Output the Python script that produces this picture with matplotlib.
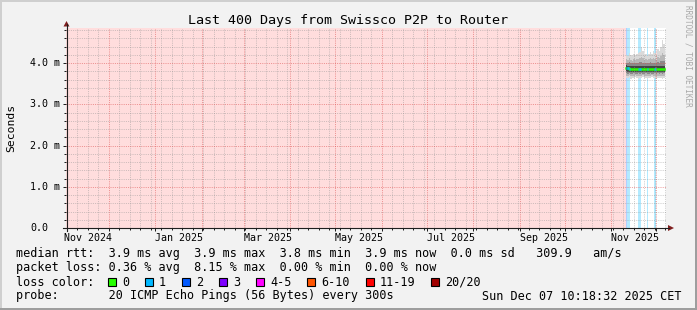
import matplotlib
matplotlib.use("Agg")
import matplotlib.pyplot as plt
import matplotlib.dates as mdates
from matplotlib.ticker import MultipleLocator
from matplotlib.lines import Line2D
from matplotlib.patches import Rectangle, Polygon
from matplotlib.transforms import blended_transform_factory
import pandas as pd

W, H = 697, 310
MONO = "DejaVu Sans Mono"

# ---- chart data ----
title = "Last 400 Days from Swissco P2P to Router"
graph_end = pd.Timestamp("2025-12-07 10:18:32")
graph_start = graph_end - pd.Timedelta(days=400)
y_top = 4.85  # ms

ytick_values = [0.0, 1.0, 2.0, 3.0, 4.0]
ytick_labels = ["0.0", "1.0 m", "2.0 m", "3.0 m", "4.0 m"]

xlabel_months = ["2024-11-01", "2025-01-01", "2025-03-01", "2025-05-01",
                 "2025-07-01", "2025-09-01", "2025-11-01"]
xlabel_texts = ["Nov 2024", "Jan 2025", "Mar 2025", "May 2025",
                "Jul 2025", "Sep 2025", "Nov 2025"]

# one sample per day, rtt in ms (smoke bands from lowest to highest ping)
sample_days = pd.date_range("2025-11-10 12:00", periods=27, freq="D")
rtt_min = [3.64, 3.63, 3.65, 3.62, 3.64, 3.63, 3.65, 3.64, 3.62, 3.63, 3.64, 3.65, 3.63, 3.64,
           3.62, 3.64, 3.63, 3.65, 3.64, 3.63, 3.62, 3.64, 3.63, 3.64, 3.62, 3.63, 3.64]
rtt_lo = [3.69, 3.68, 3.70, 3.68, 3.69, 3.68, 3.70, 3.69, 3.68, 3.69, 3.68, 3.70, 3.69, 3.68,
          3.69, 3.68, 3.69, 3.70, 3.68, 3.69, 3.68, 3.69, 3.68, 3.69, 3.68, 3.69, 3.69]
rtt_core_lo = [3.75, 3.74, 3.75, 3.74, 3.74, 3.75, 3.74, 3.74, 3.75, 3.74, 3.75, 3.74, 3.74, 3.75,
               3.74, 3.74, 3.75, 3.74, 3.74, 3.75, 3.74, 3.75, 3.74, 3.75, 3.74, 3.75, 3.75]
rtt_dark_lo = [3.80, 3.79, 3.79, 3.79, 3.78, 3.79, 3.78, 3.78, 3.79, 3.78, 3.79, 3.78, 3.78, 3.79,
               3.78, 3.78, 3.79, 3.78, 3.78, 3.79, 3.78, 3.79, 3.78, 3.79, 3.78, 3.79, 3.79]
rtt_med = [3.88, 3.87, 3.86, 3.86, 3.85, 3.86, 3.85, 3.85, 3.86, 3.85, 3.86, 3.85, 3.85, 3.86,
           3.85, 3.85, 3.86, 3.85, 3.85, 3.86, 3.85, 3.86, 3.85, 3.86, 3.85, 3.86, 3.86]
rtt_dark_hi = [3.95, 3.94, 3.94, 3.93, 3.93, 3.94, 3.93, 3.93, 3.94, 3.93, 3.94, 3.93, 3.93, 3.94,
               3.93, 3.93, 3.94, 3.93, 3.93, 3.94, 3.93, 3.94, 3.93, 3.94, 3.94, 3.94, 3.95]
rtt_core_hi = [4.01, 4.00, 4.02, 4.00, 3.99, 4.01, 3.99, 4.00, 4.01, 4.02, 4.03, 4.01, 3.99, 4.00,
               3.99, 4.00, 4.02, 4.00, 4.01, 4.00, 3.99, 4.02, 4.01, 4.04, 4.06, 4.05, 4.08]
rtt_hi = [4.10, 4.08, 4.12, 4.08, 4.06, 4.10, 4.07, 4.09, 4.10, 4.12, 4.15, 4.12, 4.08, 4.10,
          4.07, 4.09, 4.12, 4.10, 4.12, 4.10, 4.08, 4.14, 4.12, 4.18, 4.25, 4.20, 4.28]
rtt_max = [4.20, 4.18, 4.25, 4.20, 4.17, 4.22, 4.19, 4.21, 4.24, 4.26, 4.38, 4.30, 4.20, 4.22,
           4.18, 4.21, 4.28, 4.22, 4.30, 4.25, 4.20, 4.33, 4.30, 4.40, 4.56, 4.45, 4.60]
loss_pings = [2, 1, 1, 0, 0, 0, 0, 0, 1, 1, 0, 0, 0, 0,
              1, 0, 0, 0, 0, 1, 0, 0, 0, 0, 0, 0, 0]

loss_labels = ["0", "1", "2", "3", "4-5", "6-10", "11-19", "20/20"]
loss_colors = ["#26ff00", "#00b8ff", "#0059ff", "#7e00ff", "#ff00ff", "#ff5500", "#ff0000", "#a10000"]
loss_bg = {1: "#b3eaff", 2: "#b3cdff"}

legend_rtt = "median rtt:  3.9 ms avg  3.9 ms max  3.8 ms min  3.9 ms now  0.0 ms sd   309.9   am/s"
legend_loss = "packet loss: 0.36 % avg  8.15 % max  0.00 % min  0.00 % now"
legend_probe = "probe:       20 ICMP Echo Pings (56 Bytes) every 300s"
stamp = "Sun Dec 07 10:18:32 2025 CET"


def fx(px):
    return px / W


def fy(py):
    return 1 - py / H


fig = plt.figure(figsize=(W / 100, H / 100), dpi=100, facecolor="#f2f2f2")

# frame shading
for (x0, y0, x1, y1, c) in [(0, 0, W, 2, "#cfcfcf"), (0, 0, 2, H, "#cfcfcf"),
                            (W - 2, 0, W, H, "#9e9e9e"), (0, H - 2, W, H, "#9e9e9e")]:
    fig.add_artist(Rectangle((fx(x0), fy(y1)), fx(x1) - fx(x0), fy(y0) - fy(y1),
                             transform=fig.transFigure, color=c, lw=0))

ax = fig.add_axes([fx(66), fy(228), fx(600), 200 / H])
ax.set_facecolor("white")
ax.set_xlim(graph_start, graph_end)
ax.set_ylim(0, y_top)

# unknown data before the first sample
ax.axvspan(graph_start, sample_days[0], color="#ffdddd", lw=0, zorder=0.5)

# loss background bars
one_day = pd.Timedelta(days=1)
for t, lp in zip(sample_days, loss_pings):
    if lp > 0:
        ax.axvspan(t, t + one_day, color=loss_bg[lp], lw=0, zorder=0.6)

# smoke
ax.fill_between(sample_days, rtt_min, rtt_max, step="post", color="#d9d9d9", lw=0, zorder=1)
ax.fill_between(sample_days, rtt_lo, rtt_hi, step="post", color="#b8b8b8", lw=0, zorder=1.1)
ax.fill_between(sample_days, rtt_core_lo, rtt_core_hi, step="post", color="#8a8a8a", lw=0, zorder=1.2)
ax.fill_between(sample_days, rtt_dark_lo, rtt_dark_hi, step="post", color="#454545", lw=0, zorder=1.3)

# median line coloured by loss
ax.plot(sample_days, rtt_med, drawstyle="steps-post", color=loss_colors[0], lw=1.8, zorder=1.5)
for t, m, lp in zip(sample_days, rtt_med, loss_pings):
    if lp > 0:
        ax.plot([t, t + one_day], [m, m], color=loss_colors[lp], lw=1.8, zorder=1.6,
                solid_capstyle="butt")

# grid
ax.xaxis.set_major_locator(mdates.MonthLocator())
ax.xaxis.set_minor_locator(mdates.WeekdayLocator(byweekday=mdates.SU))
ax.yaxis.set_major_locator(MultipleLocator(1.0))
ax.yaxis.set_minor_locator(MultipleLocator(0.2))
ax.set_axisbelow(False)
ax.grid(which="minor", color=(0.56, 0.56, 0.56), alpha=0.45, lw=0.72, ls=(0, (1, 1.2)))
ax.grid(which="major", color=(0.87, 0.31, 0.31), alpha=0.55, lw=0.72, ls=(0, (1, 1.2)))
ax.tick_params(which="both", direction="out", color="#1f1f1f", width=0.72,
               labelbottom=False, labelleft=False)
ax.tick_params(which="major", length=2.2)
ax.tick_params(which="minor", length=1.4)
for s in ax.spines.values():
    s.set_visible(False)

# axes with arrows
fig.add_artist(Line2D([fx(66.5), fx(66.5)], [fy(231), fy(24)], transform=fig.transFigure,
                      color="#1f1f1f", lw=0.8))
fig.add_artist(Line2D([fx(63), fx(669)], [fy(228), fy(228)], transform=fig.transFigure,
                      color="#1f1f1f", lw=0.8))
fig.add_artist(Polygon([(fx(63.5), fy(26.5)), (fx(69.5), fy(26.5)), (fx(66.5), fy(21))],
                       transform=fig.transFigure, color="#801f1f", lw=0))
fig.add_artist(Polygon([(fx(668), fy(225)), (fx(668), fy(231)), (fx(674), fy(228))],
                       transform=fig.transFigure, color="#801f1f", lw=0))

# tick labels
ytrans = blended_transform_factory(fig.transFigure, ax.transData)
for v, lab in zip(ytick_values, ytick_labels):
    ax.text(fx(30), v, lab, transform=ytrans, ha="left", va="center", family=MONO,
            fontsize=7.2, clip_on=False)
xtrans = blended_transform_factory(ax.transData, fig.transFigure)
for m, lab in zip(xlabel_months, xlabel_texts):
    ax.text(pd.Timestamp(m) + pd.Timedelta(days=16), fy(241), lab, transform=xtrans,
            ha="center", va="baseline", family=MONO, fontsize=7.2, clip_on=False)

# titles
fig.text(fx(347.5), fy(24), title, ha="center", va="baseline", family=MONO, fontsize=9.6)
fig.text(fx(11), fy(127.5), "Seconds", rotation=90, ha="center", va="center",
         family=MONO, fontsize=8.2)
fig.text(fx(688), fy(5), "RRDTOOL / TOBI OETIKER", rotation=270, ha="center", va="top",
         family=MONO, fontsize=5.6, color="#a8a8a8")

# legend
LEG = 8.43
fig.text(fx(16), fy(257.5), legend_rtt, ha="left", va="baseline", family=MONO, fontsize=LEG)
fig.text(fx(16), fy(271.5), legend_loss, ha="left", va="baseline", family=MONO, fontsize=LEG)
fig.text(fx(16), fy(285.5), "loss color:", ha="left", va="baseline", family=MONO, fontsize=LEG)
bx = 108
for lab, col in zip(loss_labels, loss_colors):
    fig.add_artist(Rectangle((fx(bx), fy(286)), fx(8), 8 / H, transform=fig.transFigure,
                             facecolor=col, edgecolor="black", lw=0.8))
    fig.text(fx(bx + 14), fy(285.5), lab, ha="left", va="baseline", family=MONO, fontsize=LEG)
    bx += 14 + len(lab) * 7.05 + 16
fig.text(fx(16), fy(299.5), legend_probe, ha="left", va="baseline", family=MONO, fontsize=LEG)
fig.text(fx(681), fy(299.5), stamp, ha="right", va="baseline", family=MONO, fontsize=LEG)

fig.savefig("out.png", dpi=100, facecolor=fig.get_facecolor())
